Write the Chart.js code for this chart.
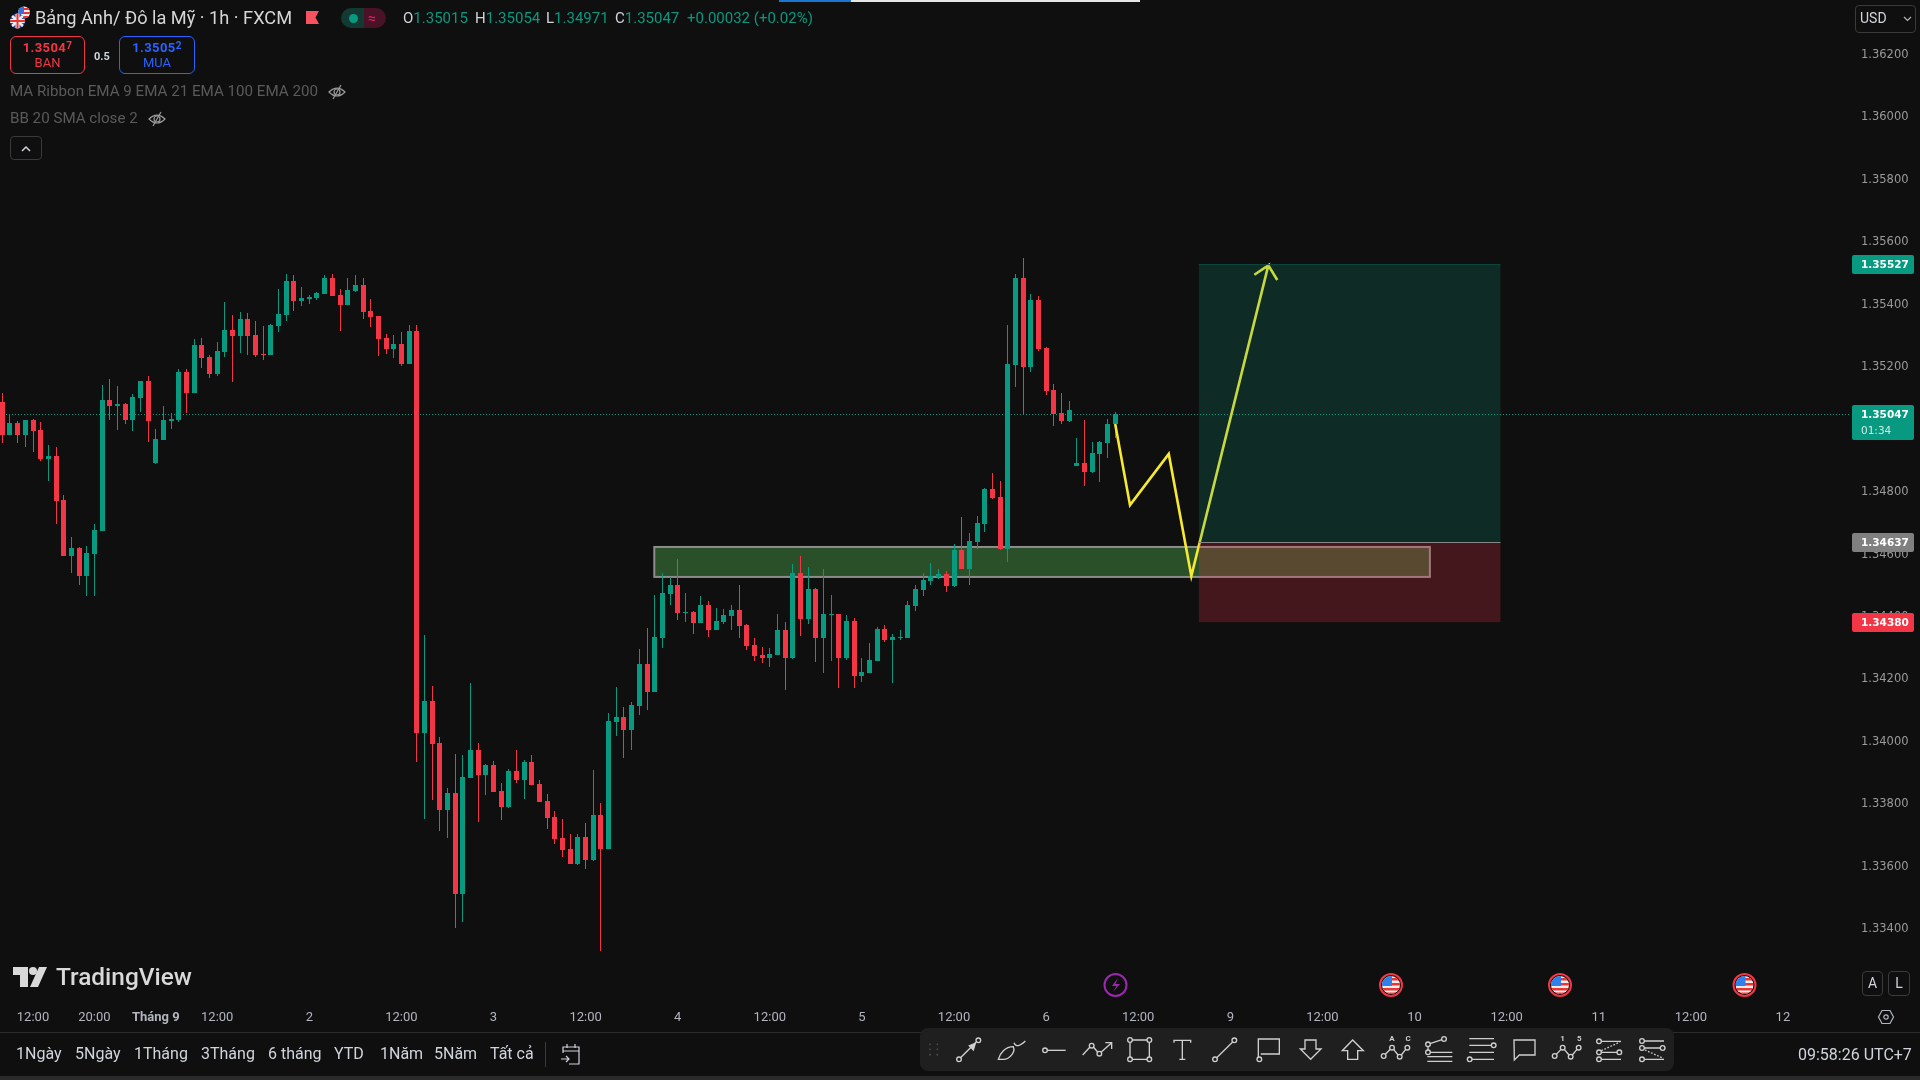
<!DOCTYPE html>
<html>
<head>
<meta charset="utf-8">
<title>GBPUSD</title>
<script src="https://cdn.jsdelivr.net/npm/chart.js@4"></script>
<style>
  html, body { margin: 0; padding: 0; background: #0f0f0f; width: 1920px; height: 1080px; overflow: hidden; }
  body { font-family: Roboto, sans-serif; position: relative; }
  canvas { position: absolute; left: 0; top: 0; }
  .t { position: absolute; white-space: nowrap; line-height: 1; transform: translateY(-50%); }
  .box { position: absolute; box-sizing: border-box; }
  svg { position: absolute; overflow: visible; }
  sup { font-size: 10px; vertical-align: 3px; line-height: 0; }
</style>
</head>
<body>
<canvas id="chart" width="1920" height="1032"></canvas>

<!-- loading bar on top -->
<div class="box" style="left:779px;top:0;width:72px;height:2px;background:#1976d2"></div>
<div class="box" style="left:851px;top:0;width:289px;height:2px;background:#e6e6e6"></div>

<!-- header -->
<svg style="left:8px;top:4px" width="30" height="30" viewBox="0 0 30 30">
  <defs>
    <clipPath id="cUs"><circle cx="16" cy="8.5" r="6"/></clipPath>
    <clipPath id="cUk"><circle cx="9.5" cy="17" r="7.5"/></clipPath>
  </defs>
  <g clip-path="url(#cUs)">
    <rect x="9" y="2" width="14" height="13" fill="#eee"/>
    <rect x="9" y="4" width="14" height="2" fill="#e33"/><rect x="9" y="8" width="14" height="2" fill="#e33"/><rect x="9" y="12" width="14" height="2" fill="#e33"/>
    <rect x="9" y="2" width="7" height="7" fill="#3a6fd8"/>
  </g>
  <g clip-path="url(#cUk)">
    <rect x="1" y="9" width="17" height="16" fill="#2b4fa8"/>
    <path d="M2 10L17 24M17 10L2 24" stroke="#eee" stroke-width="2.4"/>
    <path d="M9.5 9V25M1 17H18" stroke="#eee" stroke-width="4"/>
    <path d="M9.5 9V25M1 17H18" stroke="#e33" stroke-width="2"/>
  </g>
</svg>
<div class="t" style="left:35px;top:18px;font-size:18.2px;color:#d6d6d6">Bảng Anh/ Đô la Mỹ · 1h · FXCM</div>
<svg style="left:306px;top:11px" width="14" height="14"><path d="M0 0H13L9.5 6.5L13 13H0Z" fill="#f7525f"/></svg>
<div class="box" style="left:341px;top:8px;width:23px;height:20px;background:#123a33;border-radius:10px 0 0 10px"></div>
<div class="box" style="left:364px;top:8px;width:22px;height:20px;background:#4a1227;border-radius:0 10px 10px 0"></div>
<div class="box" style="left:349px;top:14px;width:9px;height:9px;background:#089981;border-radius:50%"></div>
<div class="t" style="left:368px;top:18px;font-size:14px;color:#e91e63">≈</div>
<div class="t" style="left:403px;top:18px;font-size:15px;color:#d1d4dc">O<span style="color:#089981">1.35015</span></div>
<div class="t" style="left:475px;top:18px;font-size:15px;color:#d1d4dc">H<span style="color:#089981">1.35054</span></div>
<div class="t" style="left:546px;top:18px;font-size:15px;color:#d1d4dc">L<span style="color:#089981">1.34971</span></div>
<div class="t" style="left:615px;top:18px;font-size:15px;color:#d1d4dc">C<span style="color:#089981">1.35047</span></div>
<div class="t" style="left:687px;top:18px;font-size:15px;color:#089981">+0.00032 (+0.02%)</div>

<div class="box" style="left:10px;top:36px;width:75px;height:38px;border:1px solid #f23645;border-radius:6px"></div>
<div class="t" style="left:10px;width:75px;text-align:center;top:47px;font-size:13px;font-weight:700;color:#f23645;letter-spacing:.4px">1.3504<sup>7</sup></div>
<div class="t" style="left:10px;width:75px;text-align:center;top:62px;font-size:13px;color:#f23645">BAN</div>
<div class="t" style="left:94px;top:56px;font-size:11px;font-weight:700;color:#d1d4dc">0.5</div>
<div class="box" style="left:119px;top:36px;width:76px;height:38px;border:1px solid #2962ff;border-radius:6px"></div>
<div class="t" style="left:119px;width:76px;text-align:center;top:47px;font-size:13px;font-weight:700;color:#2962ff;letter-spacing:.4px">1.3505<sup>2</sup></div>
<div class="t" style="left:119px;width:76px;text-align:center;top:62px;font-size:13px;color:#2962ff">MUA</div>

<div class="t" style="left:10px;top:92px;font-size:15.15px;color:#5a5a5a">MA Ribbon EMA 9 EMA 21 EMA 100 EMA 200</div>
<svg style="left:328px;top:84px" width="18" height="16" fill="none" stroke="#9a9a9a" stroke-width="1.2"><path d="M1 8Q9 0 17 8Q9 16 1 8Z"/><circle cx="9" cy="8" r="3"/><path d="M13 1L5 15"/></svg>
<div class="t" style="left:10px;top:119px;font-size:15.15px;color:#5a5a5a">BB 20 SMA close 2</div>
<svg style="left:148px;top:111px" width="18" height="16" fill="none" stroke="#9a9a9a" stroke-width="1.2"><path d="M1 8Q9 0 17 8Q9 16 1 8Z"/><circle cx="9" cy="8" r="3"/><path d="M13 1L5 15"/></svg>
<div class="box" style="left:10px;top:136px;width:32px;height:24px;border:1px solid #3a3a3a;border-radius:4px"></div>
<svg style="left:21px;top:145px" width="10" height="7" fill="none" stroke="#d1d4dc" stroke-width="1.5"><path d="M1 6L5 2L9 6"/></svg>

<!-- currency button -->
<div class="box" style="left:1855px;top:5px;width:61px;height:28px;border:1px solid #3a3a3a;border-radius:4px"></div>
<div class="t" style="left:1860px;top:18px;font-size:14px;color:#d1d4dc">USD</div>
<svg style="left:1903px;top:16px" width="9" height="6" fill="none" stroke="#b2b5be" stroke-width="1.2"><path d="M1 1L4.5 4.5L8 1"/></svg>

<!-- logo -->
<svg style="left:13px;top:967px" width="34" height="20" viewBox="0 0 34 20" fill="#d9d9d9">
  <path d="M0 0H15V20H7V8H0Z"/><circle cx="20" cy="4" r="4"/><path d="M26 0H34L25 20H17Z"/>
</svg>
<div class="t" style="left:56px;top:977px;font-size:24.4px;font-weight:500;color:#d9d9d9">TradingView</div>

<!-- event markers -->
<svg id="events" style="left:0;top:0" width="1920" height="1080" fill="none">
  <defs>
    <clipPath id="cE"><circle cx="0" cy="0" r="9"/></clipPath>
    <g id="usFlag" clip-path="url(#cE)">
      <rect x="-9" y="-9" width="18" height="18" fill="#eee"/>
      <rect x="0" y="-7" width="9" height="2.5" fill="#e33"/><rect x="0" y="-2" width="9" height="2.5" fill="#e33"/>
      <rect x="-9" y="3" width="18" height="2.5" fill="#e33"/><rect x="-9" y="7.5" width="18" height="2" fill="#e33"/>
      <rect x="-9" y="-9" width="10" height="10" fill="#2f80ed"/>
    </g>
  </defs>
  <circle cx="1115.5" cy="985" r="11" stroke="#9c27b0" stroke-width="2"/>
  <path d="M1118 978L1112 986H1116.5L1113 992L1120 984H1115.5Z" fill="#9c27b0"/>
  <use href="#usFlag" x="1391" y="985"/>
  <circle cx="1391" cy="985" r="11" stroke="#f23645" stroke-width="2"/>
  <use href="#usFlag" x="1560" y="985"/>
  <circle cx="1560" cy="985" r="11" stroke="#f23645" stroke-width="2"/>
  <use href="#usFlag" x="1744.5" y="985"/>
  <circle cx="1744.5" cy="985" r="11" stroke="#f23645" stroke-width="2"/>
</svg>

<!-- A / L and settings -->
<div class="box" style="left:1862px;top:971px;width:21px;height:25px;border:1px solid #3a3a3a;border-radius:4px"></div>
<div class="t" style="left:1862px;width:21px;text-align:center;top:983px;font-size:14px;color:#d1d4dc">A</div>
<div class="box" style="left:1888px;top:971px;width:22px;height:25px;border:1px solid #3a3a3a;border-radius:4px"></div>
<div class="t" style="left:1888px;width:22px;text-align:center;top:983px;font-size:14px;color:#d1d4dc">L</div>
<svg style="left:1878px;top:1009px" width="16" height="16" fill="none" stroke="#b2b5be" stroke-width="1.2"><path d="M4 1.5H12L15.5 8L12 14.5H4L.5 8Z"/><circle cx="8" cy="8" r="2.2"/></svg>

<!-- bottom bar -->
<div class="box" style="left:0;top:1032px;width:1920px;height:1px;background:#2a2a2a"></div>
<div class="box" style="left:0;top:1076px;width:1920px;height:4px;background:#2a2a2a"></div>
<div class="t" style="left:16px;top:1054px;font-size:16px;color:#d1d4dc">1Ngày</div>
<div class="t" style="left:75px;top:1054px;font-size:16px;color:#d1d4dc">5Ngày</div>
<div class="t" style="left:134px;top:1054px;font-size:16px;color:#d1d4dc">1Tháng</div>
<div class="t" style="left:201px;top:1054px;font-size:16px;color:#d1d4dc">3Tháng</div>
<div class="t" style="left:268px;top:1054px;font-size:16px;color:#d1d4dc">6 tháng</div>
<div class="t" style="left:334px;top:1054px;font-size:16px;color:#d1d4dc">YTD</div>
<div class="t" style="left:380px;top:1054px;font-size:16px;color:#d1d4dc">1Năm</div>
<div class="t" style="left:434px;top:1054px;font-size:16px;color:#d1d4dc">5Năm</div>
<div class="t" style="left:490px;top:1054px;font-size:16px;color:#d1d4dc">Tất cả</div>
<div class="box" style="left:545px;top:1042px;width:1px;height:25px;background:#3a3a3a"></div>
<svg style="left:560px;top:1042px" width="22" height="24" fill="none" stroke="#d1d4dc" stroke-width="1.2">
  <path d="M3 11V5H19V22H9M3 9H19M7 2V6M15 2V6M1 17H9M6 14L9 17L6 20"/>
</svg>
<div class="t" style="left:1798px;top:1055px;font-size:16px;color:#d1d4dc">09:58:26 UTC+7</div>

<!-- drawing toolbar -->
<div class="box" style="left:920px;top:1028px;width:754px;height:43px;background:#1f1f1f;border-radius:8px"></div>
<svg style="left:920px;top:1030px" width="760" height="50" viewBox="0 0 2280 150" fill="none" stroke="#cfcfcf" stroke-width="4">
  <g fill="#555" stroke="none">
    <circle cx="30" cy="43" r="2.5"/><circle cx="52" cy="43" r="2.5"/><circle cx="30" cy="58" r="2.5"/>
    <circle cx="52" cy="58" r="2.5"/><circle cx="30" cy="74" r="2.5"/><circle cx="52" cy="74" r="2.5"/>
  </g>
  <circle cx="117" cy="88" r="7"/><circle cx="175" cy="31" r="7"/><path d="M123 82L168 37"/>
  <path d="M166 40L148 47L160 60Z" fill="#cfcfcf"/>
  <path d="M235 88C240 70 255 50 280 50C287 65 270 88 250 88Z"/><path d="M282 38Q290 58 316 33"/>
  <circle cx="375" cy="61" r="7"/><path d="M382 61H437"/>
  <path d="M488 75L510 51M520 51L533 66M544 66L575 38M556 38H575V57"/><circle cx="515" cy="47" r="7"/><circle cx="538" cy="71" r="7"/>
  <path d="M637 30H681M637 88H681M630 37V81M688 37V81"/>
  <circle cx="630" cy="30" r="7"/><circle cx="688" cy="30" r="7"/><circle cx="630" cy="88" r="7"/><circle cx="688" cy="88" r="7"/>
  <path d="M762 38V31H812V38M787 31V88M778 88H796"/>
  <circle cx="885" cy="88" r="7"/><circle cx="943" cy="31" r="7"/><path d="M890 83L938 36"/>
  <g transform="translate(990 0)">
    <path d="M25 81V27H88V72H32"/><circle cx="28" cy="88" r="7"/>
    <path d="M165 30H198V57H213L182 88L151 57H165Z"/>
    <path d="M308 30L340 62H323V88H293V62H277Z"/>
    <path d="M406 73L421 58M431 58L444 75M454 75L467 58"/><circle cx="401" cy="78" r="7"/><circle cx="426" cy="53" r="7"/><circle cx="449" cy="80" r="7"/><circle cx="472" cy="53" r="7"/>
    <text x="426" y="33" font-size="24" font-weight="700" fill="#cfcfcf" stroke="none" text-anchor="middle">A</text>
    <text x="474" y="33" font-size="24" font-weight="700" fill="#cfcfcf" stroke="none" text-anchor="middle">C</text>
    <circle cx="534" cy="43" r="7"/><circle cx="582" cy="27" r="7"/><circle cx="534" cy="67" r="7"/>
    <path d="M540 41L576 29M534 50V60M541 67H607M532 80H607M532 94H607"/>
    <path d="M658 26H732M658 46H725M658 67H732M666 88H732"/><circle cx="731" cy="46" r="7"/><circle cx="659" cy="88" r="7"/>
    <path d="M792 30H855V75H808L793 90Z"/>
    <path d="M919 73L933 58M943 58L957 75M967 75L981 58"/><circle cx="914" cy="78" r="7"/><circle cx="938" cy="53" r="7"/><circle cx="962" cy="80" r="7"/><circle cx="986" cy="53" r="7"/>
    <text x="938" y="33" font-size="24" font-weight="700" fill="#cfcfcf" stroke="none" text-anchor="middle">1</text>
    <text x="988" y="33" font-size="24" font-weight="700" fill="#cfcfcf" stroke="none" text-anchor="middle">5</text>
    <circle cx="1047" cy="34" r="7"/><circle cx="1047" cy="67" r="7"/><circle cx="1108" cy="67" r="7"/><circle cx="1047" cy="88" r="7"/>
    <path d="M1054 34H1113M1054 67H1101M1054 88H1113"/><path d="M1054 62L1110 36" stroke-dasharray="5 5"/>
    <circle cx="1176" cy="33" r="7"/><circle cx="1176" cy="54" r="7"/><circle cx="1238" cy="54" r="7"/><circle cx="1176" cy="88" r="7"/>
    <path d="M1183 33H1242M1183 54H1231M1183 88H1242"/><path d="M1185 60L1240 85" stroke-dasharray="5 5"/>
  </g>
</svg>

<script>
// hourly candles
const opens = [
  1.35085,1.34980,1.35018,1.34980,1.35028,1.34996,1.34903,1.34912,1.34771,1.34592,
  1.34618,1.34528,1.34598,1.34672,1.35092,1.35072,1.35079,1.35028,1.35098,1.35152,
  1.34890,1.34963,1.35024,1.35028,1.35181,1.35114,1.35268,1.35229,1.35175,1.35245,
  1.35316,1.35297,1.35351,1.35300,1.35239,1.35236,1.35329,1.35364,1.35473,1.35409,
  1.35415,1.35418,1.35431,1.35482,1.35428,1.35396,1.35441,1.35460,1.35377,1.35361,
  1.35290,1.35255,1.35271,1.35207,1.35313,1.34026,1.34127,1.33994,1.33778,1.33833,
  1.33510,1.33881,1.33971,1.33891,1.33922,1.33840,1.33788,1.33904,1.33875,1.33932,
  1.33862,1.33808,1.33757,1.33689,1.33654,1.33606,1.33692,1.33619,1.33762,1.33654,
  1.34060,1.34076,1.34034,1.34111,1.34246,1.34157,1.34329,1.34471,1.34499,1.34409,
  1.34413,1.34378,1.34435,1.34355,1.34381,1.34400,1.34420,1.34371,1.34307,1.34276,
  1.34265,1.34276,1.34355,1.34265,1.34537,1.34390,1.34486,1.34329,1.34403,1.34406,
  1.34265,1.34384,1.34208,1.34217,1.34256,1.34358,1.34323,1.34329,1.34329,1.34432,
  1.34483,1.34512,1.34525,1.34534,1.34496,1.34611,1.34550,1.34637,1.34695,1.34807,
  1.34781,1.34614,1.35204,1.35483,1.35197,1.35412,1.35258,1.35124,1.35050,1.35024,
  1.34880,1.34890,1.34861,1.34919,1.34954,1.35015
];
const highs = [
  1.35113,1.35047,1.35024,1.35028,1.35031,1.35021,1.34947,1.34941,1.34787,1.34653,
  1.34621,1.34624,1.34694,1.35140,1.35159,1.35136,1.35082,1.35111,1.35152,1.35168,
  1.34999,1.35072,1.35050,1.35191,1.35191,1.35287,1.35290,1.35236,1.35277,1.35406,
  1.35364,1.35373,1.35370,1.35345,1.35329,1.35335,1.35447,1.35495,1.35492,1.35454,
  1.35428,1.35438,1.35492,1.35495,1.35447,1.35482,1.35492,1.35482,1.35415,1.35361,
  1.35303,1.35300,1.35309,1.35332,1.35332,1.34339,1.34176,1.34013,1.33848,1.33957,
  1.33955,1.34185,1.33994,1.33926,1.33936,1.33866,1.33910,1.33971,1.33939,1.33955,
  1.33875,1.33829,1.33776,1.33750,1.33701,1.33701,1.33736,1.33906,1.33801,1.34090,
  1.34173,1.34108,1.34125,1.34294,1.34362,1.34467,1.34537,1.34525,1.34583,1.34474,
  1.34416,1.34464,1.34448,1.34425,1.34423,1.34435,1.34499,1.34374,1.34329,1.34301,
  1.34297,1.34406,1.34381,1.34567,1.34592,1.34557,1.34490,1.34550,1.34467,1.34406,
  1.34403,1.34394,1.34265,1.34313,1.34365,1.34371,1.34342,1.34355,1.34448,1.34499,
  1.34538,1.34570,1.34550,1.34544,1.34631,1.34717,1.34666,1.34720,1.34810,1.34858,
  1.34832,1.35332,1.35495,1.35547,1.35431,1.35425,1.35261,1.35143,1.35114,1.35088,
  1.34970,1.35028,1.34957,1.34960,1.35031,1.35054
];
const lows = [
  1.34954,1.34980,1.34954,1.34941,1.34925,1.34896,1.34832,1.34694,1.34592,1.34537,
  1.34499,1.34464,1.34464,1.34672,1.35028,1.34996,1.35015,1.34992,1.35053,1.34957,
  1.34887,1.34963,1.34999,1.35021,1.35050,1.35114,1.35194,1.35162,1.35168,1.35229,
  1.35149,1.35242,1.35236,1.35229,1.35220,1.35236,1.35309,1.35345,1.35377,1.35393,
  1.35399,1.35412,1.35431,1.35425,1.35313,1.35396,1.35438,1.35351,1.35325,1.35233,
  1.35239,1.35226,1.35201,1.35207,1.33932,1.33751,1.33812,1.33711,1.33689,1.33401,
  1.33420,1.33881,1.33740,1.33827,1.33836,1.33747,1.33785,1.33866,1.33813,1.33859,
  1.33804,1.33718,1.33670,1.33629,1.33606,1.33603,1.33589,1.33615,1.33327,1.33654,
  1.34015,1.33945,1.33971,1.34083,1.34099,1.34157,1.34297,1.34435,1.34387,1.34381,
  1.34342,1.34378,1.34332,1.34355,1.34374,1.34355,1.34329,1.34290,1.34255,1.34250,
  1.34236,1.34276,1.34162,1.34262,1.34336,1.34374,1.34253,1.34217,1.34256,1.34169,
  1.34259,1.34169,1.34189,1.34217,1.34256,1.34317,1.34185,1.34323,1.34329,1.34416,
  1.34464,1.34499,1.34518,1.34477,1.34493,1.34550,1.34499,1.34614,1.34669,1.34775,
  1.34611,1.34573,1.35133,1.35047,1.35181,1.35249,1.35108,1.35008,1.35015,1.35021,
  1.34880,1.34816,1.34858,1.34829,1.34906,1.34971
];
const closes = [
  1.34980,1.35018,1.34980,1.35028,1.34992,1.34903,1.34912,1.34768,1.34592,1.34618,
  1.34528,1.34601,1.34675,1.35092,1.35072,1.35079,1.35028,1.35101,1.35152,1.35024,
  1.34967,1.35028,1.35031,1.35181,1.35114,1.35268,1.35226,1.35175,1.35248,1.35316,
  1.35297,1.35351,1.35297,1.35236,1.35236,1.35332,1.35367,1.35473,1.35409,1.35418,
  1.35422,1.35434,1.35482,1.35425,1.35396,1.35444,1.35460,1.35373,1.35357,1.35287,
  1.35255,1.35271,1.35207,1.35313,1.34026,1.34127,1.33991,1.33778,1.33833,1.33510,
  1.33885,1.33971,1.33891,1.33922,1.33836,1.33788,1.33904,1.33875,1.33932,1.33859,
  1.33804,1.33753,1.33685,1.33650,1.33606,1.33692,1.33619,1.33762,1.33654,1.34064,
  1.34076,1.34034,1.34115,1.34246,1.34157,1.34332,1.34474,1.34499,1.34409,1.34413,
  1.34378,1.34435,1.34355,1.34383,1.34404,1.34420,1.34369,1.34304,1.34271,1.34265,
  1.34278,1.34355,1.34265,1.34537,1.34390,1.34486,1.34329,1.34406,1.34406,1.34265,
  1.34384,1.34208,1.34221,1.34259,1.34358,1.34323,1.34333,1.34333,1.34435,1.34486,
  1.34515,1.34528,1.34534,1.34496,1.34611,1.34550,1.34640,1.34698,1.34807,1.34778,
  1.34614,1.35207,1.35483,1.35197,1.35412,1.35255,1.35120,1.35047,1.35024,1.35060,
  1.34890,1.34861,1.34922,1.34957,1.35015,1.35047
];

// axis labels (x = candle number, includes the empty future part)
const timeTickPos = [4, 12, 20, 28, 40, 52, 64, 76, 88, 100, 112, 124, 136, 148, 160, 172, 184, 196, 208, 220, 232];
const timeTickLabels = ['12:00', '20:00', 'Tháng 9', '12:00', '2', '12:00', '3', '12:00', '4', '12:00', '5',
  '12:00', '6', '12:00', '9', '12:00', '10', '12:00', '11', '12:00', '12'];
const priceTicks = [1.362, 1.360, 1.358, 1.356, 1.354, 1.352, 1.348, 1.346, 1.344, 1.342, 1.340, 1.338, 1.336, 1.334];

// the yellow hand drawn path and its arrow head
const pathX = [145.0, 146.93, 151.98, 154.92, 164.95, 163.13, 164.95, 166.12];
const pathY = [1.35015, 1.34755, 1.34919, 1.34528, 1.35523, 1.35493, 1.35523, 1.35476];

// drawings
const zoneX = [84.95, 186.0];
const zonePrice = [1.34621, 1.34525];
const positionX = [155.9, 195.2];
const targetPrice = 1.35527;
const entryPrice = 1.34637;
const stopPrice = 1.34380;
const lastPrice = 1.35047;
const countdown = '01:34';

const xMin = -0.3, xMax = 240.87, yMin = 1.3316989, yMax = 1.3637297;
const UP = '#089981', DOWN = '#f23645';

const candleColors = closes.map((c, i) => c >= opens[i] ? UP : DOWN);

// keep candles on whole pixels like the original
const snapBars = {
    id: 'snapBars',
    afterDatasetsUpdate(chart) {
        chart.data.datasets.forEach((ds, n) => {
            if (ds.type !== 'bar') return;
            chart.getDatasetMeta(n).data.forEach(el => {
                el.x = Math.round(el.x - 2.5) + 2.5;
                el.y = Math.round(el.y);
                el.base = Math.round(el.base);
            });
        });
    }
};

const drawings = {
    id: 'drawings',
    beforeDatasetsDraw(chart) {
        const ctx = chart.ctx, x = chart.scales.x, y = chart.scales.y;
        // price line
        ctx.save();
        ctx.strokeStyle = UP;
        ctx.setLineDash([1, 2]);
        ctx.lineWidth = 1;
        const py = Math.round(y.getPixelForValue(lastPrice)) + 0.5;
        ctx.beginPath();
        ctx.moveTo(0, py);
        ctx.lineTo(1849, py);
        ctx.stroke();
        ctx.restore();
        // support zone
        const zx = x.getPixelForValue(zoneX[0]), zr = x.getPixelForValue(zoneX[1]);
        const zt = y.getPixelForValue(zonePrice[0]), zb = y.getPixelForValue(zonePrice[1]);
        ctx.fillStyle = '#2a502a';
        ctx.fillRect(zx, zt, zr - zx, zb - zt);
        ctx.strokeStyle = '#8c8c8c';
        ctx.lineWidth = 2;
        ctx.strokeRect(zx, zt, zr - zx, zb - zt);
    },
    afterDatasetsDraw(chart) {
        const ctx = chart.ctx, x = chart.scales.x, y = chart.scales.y;
        const l = x.getPixelForValue(positionX[0]), r = x.getPixelForValue(positionX[1]);
        const t = y.getPixelForValue(targetPrice), m = y.getPixelForValue(entryPrice), b = y.getPixelForValue(stopPrice);
        ctx.fillStyle = 'rgba(8,153,129,0.2)';
        ctx.fillRect(l, t, r - l, m - t);
        ctx.fillStyle = 'rgba(242,54,69,0.23)';
        ctx.fillRect(l, m, r - l, b - m);
        ctx.fillStyle = '#0e4a3f';
        ctx.fillRect(l, t, r - l, 1);
        ctx.fillStyle = '#8a8a8a';
        ctx.fillRect(l, m, r - l, 1);
    },
    afterDraw(chart) {
        const ctx = chart.ctx, y = chart.scales.y;
        const tag = (price, color, lines) => {
            const h = lines.length > 1 ? 35 : 19;
            const top = Math.round(y.getPixelForValue(price)) - (lines.length > 1 ? 9 : 9);
            ctx.fillStyle = color;
            ctx.beginPath();
            ctx.roundRect(1852, top, 62, h, 2);
            ctx.fill();
            ctx.textBaseline = 'middle';
            ctx.textAlign = 'left';
            lines.forEach((s, k) => {
                ctx.font = (k === 0 ? 'bold ' : '') + '10.5px "DejaVu Sans"';
                ctx.fillStyle = k === 0 ? '#ffffff' : 'rgba(255,255,255,0.8)';
                ctx.fillText(s, 1861, top + 10.5 + k * 16);
            });
        };
        tag(targetPrice, UP, [targetPrice.toFixed(5)]);
        tag(lastPrice, UP, [lastPrice.toFixed(5), countdown]);
        tag(entryPrice, '#808080', [entryPrice.toFixed(5)]);
        tag(stopPrice, DOWN, [stopPrice.toFixed(5)]);
    }
};

new Chart(document.getElementById('chart').getContext('2d'), {
    type: 'bar',
    data: {
        datasets: [
            {
                type: 'line',
                data: pathX.map((v, i) => ({ x: v, y: pathY[i] })),
                borderColor: '#f7e92f',
                borderWidth: 2.6,
                pointRadius: 0,
                tension: 0,
                order: 0
            },
            {
                type: 'bar',
                data: opens.map((o, i) => ({ x: i, y: [o, closes[i]] })),
                backgroundColor: candleColors,
                barThickness: 5,
                grouped: false,
                borderWidth: 0,
                inflateAmount: 0,
                order: 1
            },
            {
                type: 'bar',
                data: highs.map((h, i) => ({ x: i, y: [lows[i], h] })),
                backgroundColor: candleColors,
                barThickness: 1,
                grouped: false,
                borderWidth: 0,
                inflateAmount: 0,
                order: 2
            }
        ]
    },
    options: {
        responsive: false,
        animation: false,
        devicePixelRatio: 1,
        layout: { padding: 0 },
        plugins: { legend: { display: false }, tooltip: { enabled: false } },
        scales: {
            x: {
                type: 'linear',
                offset: false,
                min: xMin,
                max: xMax,
                grid: { display: false },
                border: { display: false },
                afterBuildTicks: scale => { scale.ticks = timeTickPos.map(v => ({ value: v })); },
                afterFit: scale => { scale.height = 32; },
                ticks: {
                    autoSkip: false,
                    maxRotation: 0,
                    padding: 2,
                    color: '#b2b5be',
                    font: ctx => ({
                        family: 'Roboto',
                        size: 13,
                        weight: timeTickLabels[ctx.index] === 'Tháng 9' ? '700' : '400'
                    }),
                    callback: (value, index) => timeTickLabels[index]
                }
            },
            y: {
                position: 'right',
                min: yMin,
                max: yMax,
                grid: { display: false },
                border: { display: false },
                afterBuildTicks: scale => { scale.ticks = priceTicks.map(v => ({ value: v })); },
                afterFit: scale => {
                    scale.width = 69;
                    scale.paddingTop = 0;
                    scale.paddingBottom = 0;
                },
                ticks: {
                    padding: 2,
                    labelOffset: 1,
                    color: '#9a9a9a',
                    font: { family: 'DejaVu Sans', size: 11.5 },
                    callback: value => value.toFixed(5)
                }
            }
        }
    },
    plugins: [snapBars, drawings]
});
</script>
</body>
</html>
